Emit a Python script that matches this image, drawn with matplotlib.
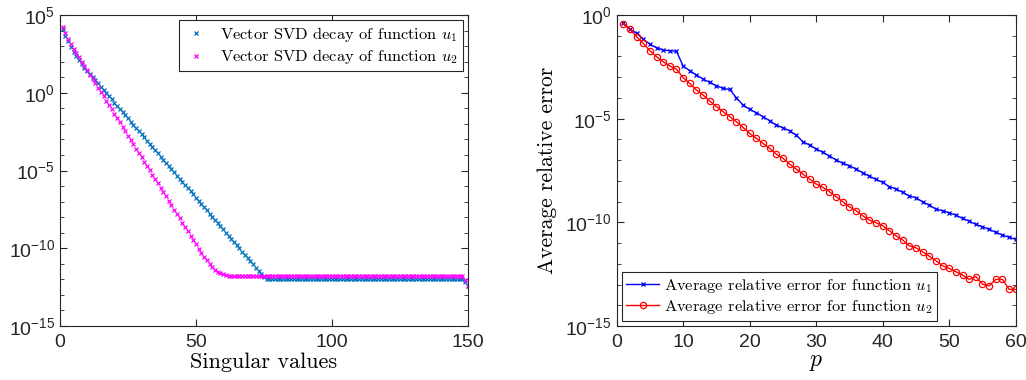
import matplotlib

matplotlib.use("Agg")
import matplotlib.pyplot as plt
import numpy as np

plt.rcParams.update(
    {
        "font.family": "Liberation Sans",
        "mathtext.fontset": "custom",
        "mathtext.rm": "Liberation Sans",
        "mathtext.it": "Liberation Sans:italic",
        "axes.edgecolor": "#262626",
        "xtick.color": "#262626",
        "ytick.color": "#262626",
        "xtick.direction": "in",
        "ytick.direction": "in",
    }
)

# log10 of the singular values, index 1..150
svd_index = np.arange(1, 151)
svd_log_u1 = [
    4.08, 3.68, 3.30, 2.95, 2.63, 2.35, 2.08, 1.84, 1.61, 1.40,
    1.19, 0.99, 0.80, 0.60, 0.39, 0.19, -0.02, -0.22, -0.42, -0.63,
    -0.83, -1.04, -1.24, -1.44, -1.65, -1.85, -2.06, -2.26, -2.46, -2.67,
    -2.87, -3.08, -3.28, -3.48, -3.69, -3.89, -4.10, -4.30, -4.50, -4.71,
    -4.91, -5.12, -5.32, -5.52, -5.73, -5.93, -6.14, -6.34, -6.54, -6.75,
    -6.95, -7.16, -7.36, -7.56, -7.77, -7.97, -8.18, -8.38, -8.58, -8.79,
    -8.99, -9.20, -9.40, -9.60, -9.81, -10.01, -10.22, -10.42, -10.62, -10.83,
    -11.03, -11.24, -11.44, -11.64, -11.85, -11.97, -12.00, -12.00, -12.00, -12.00,
    -12.00, -12.00, -12.00, -12.00, -12.00, -12.00, -12.00, -12.00, -12.00, -12.00,
    -12.00, -12.00, -12.00, -12.00, -12.00, -12.00, -12.00, -12.00, -12.00, -12.00,
    -12.00, -12.00, -12.00, -12.00, -12.00, -12.00, -12.00, -12.00, -12.00, -12.00,
    -12.00, -12.00, -12.00, -12.00, -12.00, -12.00, -12.00, -12.00, -12.00, -12.00,
    -12.00, -12.00, -12.00, -12.00, -12.00, -12.00, -12.00, -12.00, -12.00, -12.00,
    -12.00, -12.00, -12.00, -12.00, -12.00, -12.00, -12.00, -12.00, -12.00, -12.00,
    -12.00, -12.00, -12.00, -12.00, -12.00, -12.00, -12.00, -12.00, -12.18, -12.40,
]
svd_log_u2 = [
    4.25, 3.85, 3.48, 3.15, 2.84, 2.55, 2.27, 2.00, 1.73, 1.45,
    1.17, 0.89, 0.61, 0.33, 0.05, -0.23, -0.51, -0.79, -1.07, -1.35,
    -1.63, -1.91, -2.19, -2.47, -2.75, -3.03, -3.31, -3.59, -3.87, -4.15,
    -4.43, -4.71, -4.99, -5.27, -5.55, -5.83, -6.11, -6.39, -6.67, -6.95,
    -7.23, -7.51, -7.79, -8.07, -8.35, -8.63, -8.91, -9.19, -9.47, -9.75,
    -10.03, -10.31, -10.55, -10.78, -11.00, -11.20, -11.37, -11.50, -11.60, -11.68,
    -11.73, -11.77, -11.77, -11.77, -11.77, -11.77, -11.77, -11.77, -11.77, -11.77,
    -11.77, -11.77, -11.77, -11.77, -11.77, -11.77, -11.77, -11.77, -11.77, -11.77,
    -11.77, -11.77, -11.77, -11.77, -11.77, -11.77, -11.77, -11.77, -11.77, -11.77,
    -11.77, -11.77, -11.77, -11.77, -11.77, -11.77, -11.77, -11.77, -11.77, -11.77,
    -11.77, -11.77, -11.77, -11.77, -11.77, -11.77, -11.77, -11.77, -11.77, -11.77,
    -11.77, -11.77, -11.77, -11.77, -11.77, -11.77, -11.77, -11.77, -11.77, -11.77,
    -11.77, -11.77, -11.77, -11.77, -11.77, -11.77, -11.77, -11.77, -11.77, -11.77,
    -11.77, -11.77, -11.77, -11.77, -11.77, -11.77, -11.77, -11.77, -11.77, -11.77,
    -11.77, -11.77, -11.77, -11.77, -11.77, -11.77, -11.77, -11.77, -12.05, -12.42,
]

# log10 of the average relative error, p = 1..60
p_values = np.arange(1, 61)
err_log_u1 = [
    -0.40, -0.69, -0.88, -1.16, -1.41, -1.58, -1.69, -1.72, -1.75, -2.46,
    -2.69, -2.89, -3.09, -3.25, -3.41, -3.54, -3.59, -3.99, -4.34, -4.55,
    -4.71, -4.90, -5.10, -5.31, -5.44, -5.58, -5.79, -6.11, -6.27, -6.46,
    -6.62, -6.80, -6.99, -7.15, -7.27, -7.43, -7.61, -7.77, -7.93, -8.07,
    -8.28, -8.39, -8.55, -8.73, -8.81, -9.01, -9.17, -9.36, -9.44, -9.54,
    -9.65, -9.81, -9.94, -10.10, -10.21, -10.34, -10.48, -10.61, -10.72, -10.82,
]
err_log_u2 = [
    -0.43, -0.69, -1.05, -1.37, -1.72, -2.01, -2.25, -2.46, -2.62, -3.02,
    -3.30, -3.62, -3.86, -4.15, -4.42, -4.66, -4.90, -5.15, -5.42, -5.71,
    -5.95, -6.19, -6.43, -6.71, -6.91, -7.19, -7.43, -7.67, -7.91, -8.15,
    -8.31, -8.52, -8.76, -9.00, -9.25, -9.44, -9.68, -9.89, -10.02, -10.16,
    -10.40, -10.65, -10.85, -11.13, -11.23, -11.42, -11.63, -11.85, -12.09, -12.22,
    -12.38, -12.54, -12.75, -12.62, -12.98, -13.06, -12.75, -12.75, -13.23, -13.23,
]

left_yticks = [5, 0, -5, -10, -15]
right_yticks = [0, -5, -10, -15]


def style_log_axis(ax, major_exps, lo, hi):
    ax.set_yscale("log")
    ax.set_ylim(10.0**lo, 10.0**hi)
    ax.set_yticks(
        [10.0**e for e in major_exps],
        [rf"$10^{{{e}}}$" for e in major_exps],
    )
    ax.set_yticks([10.0**e for e in range(lo, hi + 1)], minor=True)
    ax.yaxis.set_minor_formatter(matplotlib.ticker.NullFormatter())
    ax.tick_params(which="both", top=True, right=True, labelsize=14)
    ax.tick_params(which="major", length=5, width=0.8)
    ax.tick_params(which="minor", length=3, width=0.6)
    ax.tick_params(axis="x", pad=6)
    for spine in ax.spines.values():
        spine.set_linewidth(0.8)


def latex_text(texts):
    # Computer Modern for the legend and axis labels
    for t in texts:
        t.set_fontfamily("cmr10")
        t.set_math_fontfamily("cm")


fig = plt.figure(figsize=(10.26, 3.8), dpi=100)
ax1 = fig.add_axes([0.0585, 0.142, 0.3975, 0.8185])
ax2 = fig.add_axes([0.601, 0.142, 0.389, 0.8185])

ax1.plot(
    svd_index, np.power(10.0, svd_log_u1), "x", color="#0072BD",
    markersize=3.5, markeredgewidth=0.9, label=r"Vector SVD decay of function $u_1$",
)
ax1.plot(
    svd_index, np.power(10.0, svd_log_u2), "x", color="#FF00FF",
    markersize=3.5, markeredgewidth=0.9, label=r"Vector SVD decay of function $u_2$",
)
style_log_axis(ax1, left_yticks, -15, 5)
ax1.set_xlim(0, 150)
ax1.set_xticks([0, 50, 100, 150])
ax1.set_xlabel("Singular values", fontsize=16, labelpad=1)
leg1 = ax1.legend(
    loc="upper right", fontsize=11.8, frameon=True, fancybox=False,
    edgecolor="#262626", framealpha=1, handlelength=1.5, handletextpad=0.7,
    borderaxespad=0.3, labelspacing=0.22, borderpad=0.3,
)
leg1.get_frame().set_linewidth(0.8)
latex_text(leg1.get_texts())
latex_text([ax1.xaxis.label])

ax2.plot(
    p_values, np.power(10.0, err_log_u1), "-x", color="blue", linewidth=1,
    markersize=3.5, markeredgewidth=0.9, label=r"Average relative error for function $u_1$",
)
ax2.plot(
    p_values, np.power(10.0, err_log_u2), "-o", color="red", linewidth=1,
    markersize=4.5, markerfacecolor="none", markeredgewidth=0.9,
    label=r"Average relative error for function $u_2$",
)
style_log_axis(ax2, right_yticks, -15, 0)
ax2.set_xlim(0, 60)
ax2.set_xticks(range(0, 61, 10))
ax2.set_xlabel("$p$", fontsize=17, labelpad=0)
ax2.set_ylabel("Average relative error", fontsize=15.5, labelpad=6)
leg2 = ax2.legend(
    loc="lower left", fontsize=11.8, frameon=True, fancybox=False,
    edgecolor="#262626", framealpha=1, handlelength=2.0, handletextpad=0.3,
    borderaxespad=0.3, labelspacing=0.22, borderpad=0.3,
)
leg2.get_frame().set_linewidth(0.8)
latex_text(leg2.get_texts())
latex_text([ax2.xaxis.label, ax2.yaxis.label])

fig.savefig("out.png", dpi=100)
